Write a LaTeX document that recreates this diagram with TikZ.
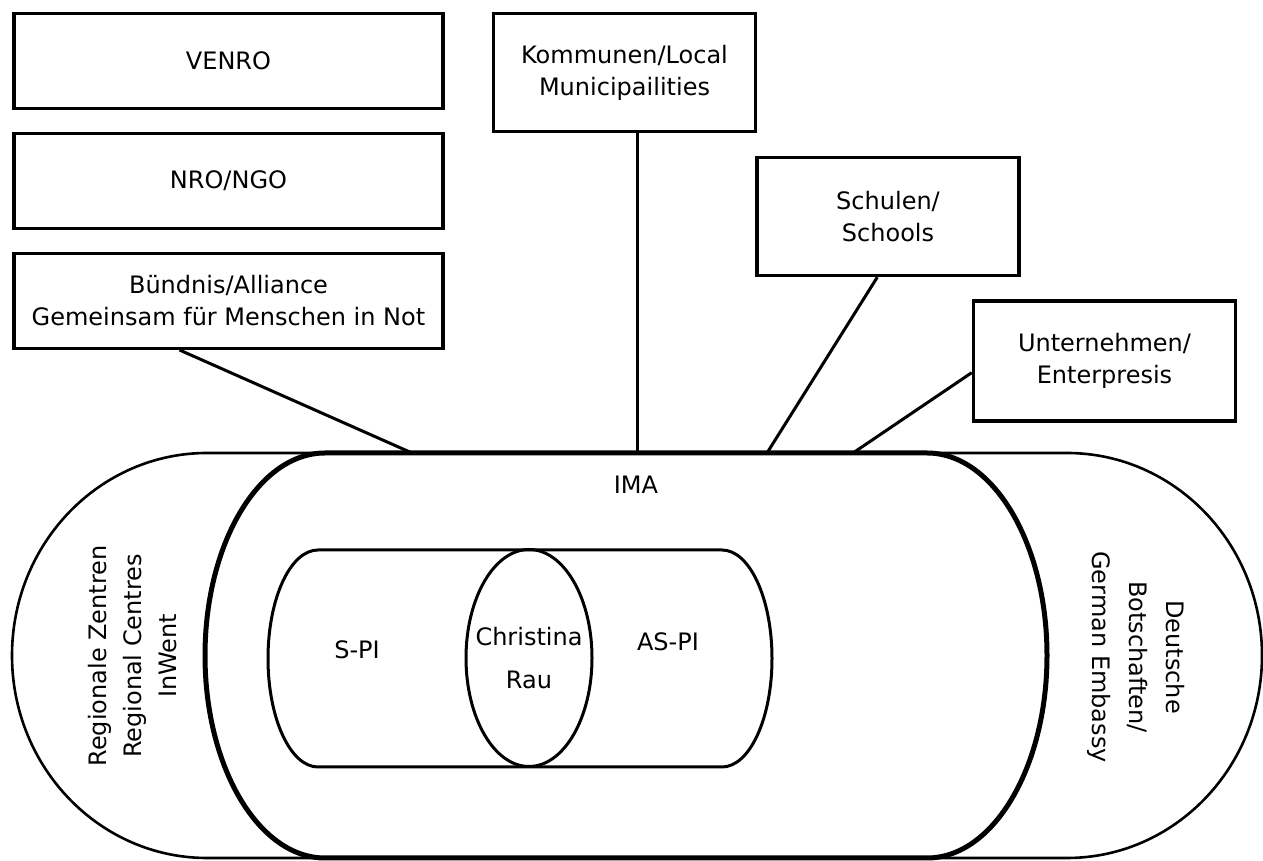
\documentclass[tikz,border=0pt]{standalone}
\usepackage{fontspec}
\setmainfont{DejaVu Sans}
\usetikzlibrary{positioning, shapes}
\tikzset{
  box/.style={draw, line width=1.7pt, align=center, inner sep=0pt},
  lnk/.style={line width=1.5pt},
  lbl/.style={align=center}}

\begin{document}
\begin{tikzpicture}[x=0.5pt, y=0.5pt, font=\fontsize{12}{16}\selectfont]
\useasboundingbox (0,0) rectangle (1263,861);
% partner boxes
\node[box, minimum width=214.5pt, minimum height=47.3pt] (venro) at (228.5,800) {VENRO};
\node[box, minimum width=214.5pt, minimum height=47.3pt] (nro) at (228.5,680) {NRO/NGO};
\node[box, minimum width=214.5pt, minimum height=47.3pt] (bund) at (228.5,560) {Bündnis/Alliance\\Gemeinsam für Menschen in Not};
\node[box, minimum width=131pt, minimum height=59pt] (komm) at (624.5,788.5) {Kommunen/Local\\Municipailities};
\node[box, minimum width=131pt, minimum height=59pt] (schul) at (888,644.5) {Schulen/\\Schools};
\node[box, minimum width=131pt, minimum height=60pt] (unter) at (1104.5,500) {Unternehmen/\\Enterpresis};
% rings
\draw[line width=1.3pt] (207,408) -- (1067,408)
  arc[start angle=90, end angle=-90, x radius=195, y radius=202.5] -- (207,3)
  arc[start angle=270, end angle=90, x radius=195, y radius=202.5] -- cycle;
\draw[line width=2.5pt] (325,408) -- (927,408)
  arc[start angle=90, end angle=-90, x radius=120, y radius=202.5] -- (325,3)
  arc[start angle=270, end angle=90, x radius=120, y radius=202.5] -- cycle;
\draw[line width=1.5pt] (318,311) -- (722,311)
  arc[start angle=90, end angle=-90, x radius=50, y radius=108.5] -- (318,94)
  arc[start angle=270, end angle=90, x radius=50, y radius=108.5] -- cycle;
\draw[line width=1.5pt] (529,203) ellipse [x radius=63, y radius=108.5];
% connectors
\coordinate (t1) at (412,408);
\coordinate (t2) at (637,408);
\coordinate (t3) at (767,408);
\coordinate (t4) at (853,408);
\draw[lnk] (bund.225) -- (t1);
\draw[lnk] (komm.south -| t2) -- (t2);
\draw[lnk] (schul.260) -- (t3);
\draw[lnk] (unter.185) -- (t4);
% labels
\node[lbl] (ima) at (636,376) {IMA};
\node[lbl] (spi) at (357,211) {S-PI};
\node[lbl] (aspi) at (668,219) {AS-PI};
\node[lbl, font=\fontsize{12}{21.5}\selectfont] (rau) at (529,203) {Christina\\Rau};
\node[lbl, rotate=90, font=\fontsize{12}{17.5}\selectfont] (reg) at (133,205) {Regionale Zentren\\Regional Centres\\InWent};
\node[lbl, rotate=-90, font=\fontsize{12}{18.5}\selectfont] (emb) at (1136,204) {Deutsche\\Botschaften/\\German Embassy};
\end{tikzpicture}
\end{document}
